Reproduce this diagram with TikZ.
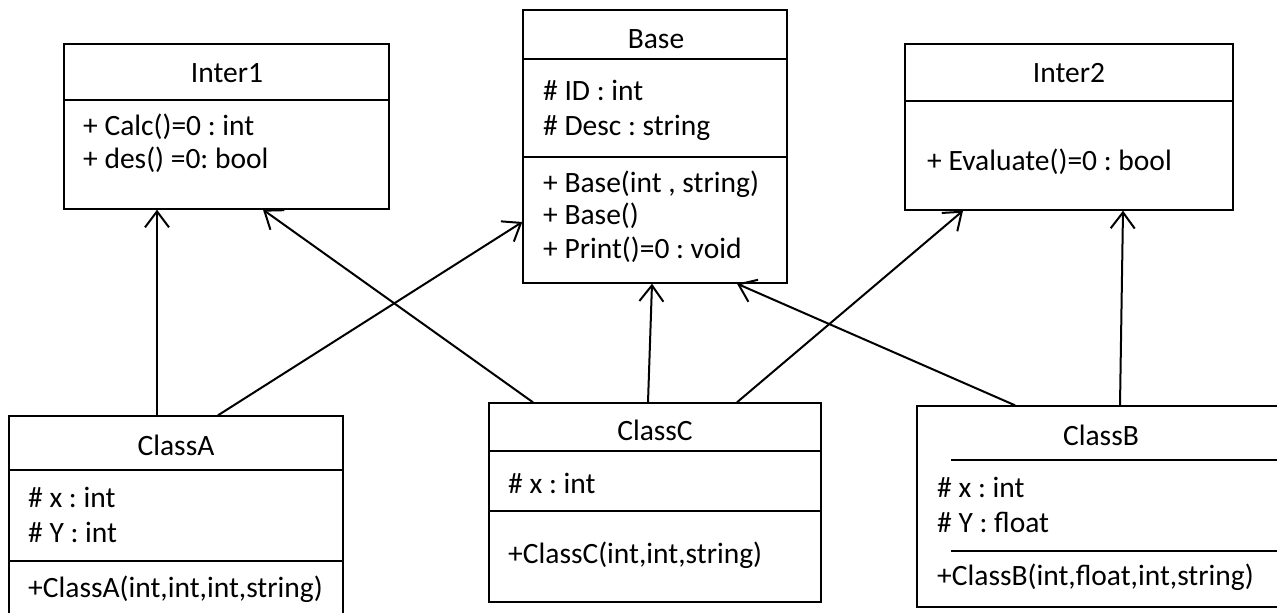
\documentclass[tikz,border=0pt]{standalone}
\usepackage{fontspec}
\setmainfont{Carlito}
\usetikzlibrary{positioning}
\usetikzlibrary{arrows.meta}
\frenchspacing

\begin{document}
\begin{tikzpicture}[x=1pt, y=-1pt,
                classbox/.style={rectangle, draw, line width=1.4pt, inner sep=0pt},
                classname/.style={anchor=base, inner sep=0pt},
                member/.style={anchor=base west, inner sep=0pt},
                sepline/.style={line width=1.4pt},
                inherit/.style={-{Straight Barb[length=16pt, width=24pt]}, line width=2pt},
                font=\fontsize{29.5}{34}\selectfont
                ]
    \clip (0,0) rectangle (1277,613);

    % interfaces and base class
    \node[classbox, minimum width=325, minimum height=165] (inter1) at (226.5,126.5) {};
    \node[classbox, minimum width=264, minimum height=273] (base) at (655,146.5) {};
    \node[classbox, minimum width=328, minimum height=166] (inter2) at (1069,127) {};

    \draw[sepline] (inter1.west |- 0,100) -- (inter1.east |- 0,100);
    \draw[sepline] (base.west |- 0,59) -- (base.east |- 0,59);
    \draw[sepline] (base.west |- 0,157) -- (base.east |- 0,157);
    \draw[sepline] (inter2.west |- 0,101) -- (inter2.east |- 0,101);

    \node[classname] (inter1name) at (227,82) {Inter1};
    \node[member] (calc) at (83,135) {+ Calc()=0 : int};
    \node[member] (des) at (83,168) {+ des() =0: bool};

    \node[classname] (basename) at (656,48) {Base};
    \node[member] (id) at (543,100) {\# ID : int};
    \node[member] (desc) at (543,135) {\# Desc : string};
    \node[member] (ctor) at (543,192) {+ Base(int , string)};
    \node[member] (ctor0) at (543,224) {+ Base()};
    \node[member] (print) at (543,258) {+ Print()=0 : void};

    \node[classname] (inter2name) at (1069,82) {Inter2};
    \node[member] (evaluate) at (927,170) {+ Evaluate()=0 : bool};

    % derived classes
    \node[classbox, minimum width=334, minimum height=214] (classA) at (176,523) {};
    \node[classbox, minimum width=332, minimum height=199] (classC) at (655,502.5) {};
    \node[classbox, minimum width=372, minimum height=201] (classB) at (1103,506.5) {};

    \draw[sepline] (classA.west |- 0,470) -- (classA.east |- 0,470);
    \draw[sepline] (classA.west |- 0,561) -- (classA.east |- 0,561);
    \draw[sepline] (classC.west |- 0,451) -- (classC.east |- 0,451);
    \draw[sepline] (classC.west |- 0,511) -- (classC.east |- 0,511);
    \draw[sepline] (951,460) -- (classB.east |- 0,460);
    \draw[sepline] (951,551) -- (classB.east |- 0,551);

    \node[classname] (classAname) at (176,455) {ClassA};
    \node[member] (ax) at (28,507) {\# x : int};
    \node[member] (ay) at (28,542) {\# Y : int};
    \node[member] (actor) at (28,597) {+ClassA(int,int,int,string)};

    \node[classname] (classCname) at (655,440) {ClassC};
    \node[member] (cx) at (508,493) {\# x : int};
    \node[member] (cctor) at (508,563) {+ClassC(int,int,string)};

    \node[classname] (classBname) at (1101,445) {ClassB};
    \node[member] (bx) at (937,497) {\# x : int};
    \node[member] (by) at (937,532) {\# Y : float};
    \node[member] (bctor) at (937,585) {+ClassB(int,float,int,string)};

    % inheritance arrows
    \draw[inherit] ([xshift=-19]classA.north) -- ([xshift=-69.5]inter1.south);
    \draw[inherit] ([xshift=42]classA.north) -- ([yshift=-75.5]base.west);
    \draw[inherit] ([xshift=-122]classC.north) -- ([xshift=36.5]inter1.south);
    \draw[inherit] ([xshift=-7]classC.north) -- ([xshift=-3]base.south);
    \draw[inherit] ([xshift=82]classC.north) -- ([xshift=-106]inter2.south);
    \draw[inherit] ([xshift=-88]classB.north) -- ([xshift=82]base.south);
    \draw[inherit] ([xshift=17]classB.north) -- ([xshift=54]inter2.south);
\end{tikzpicture}
\end{document}
